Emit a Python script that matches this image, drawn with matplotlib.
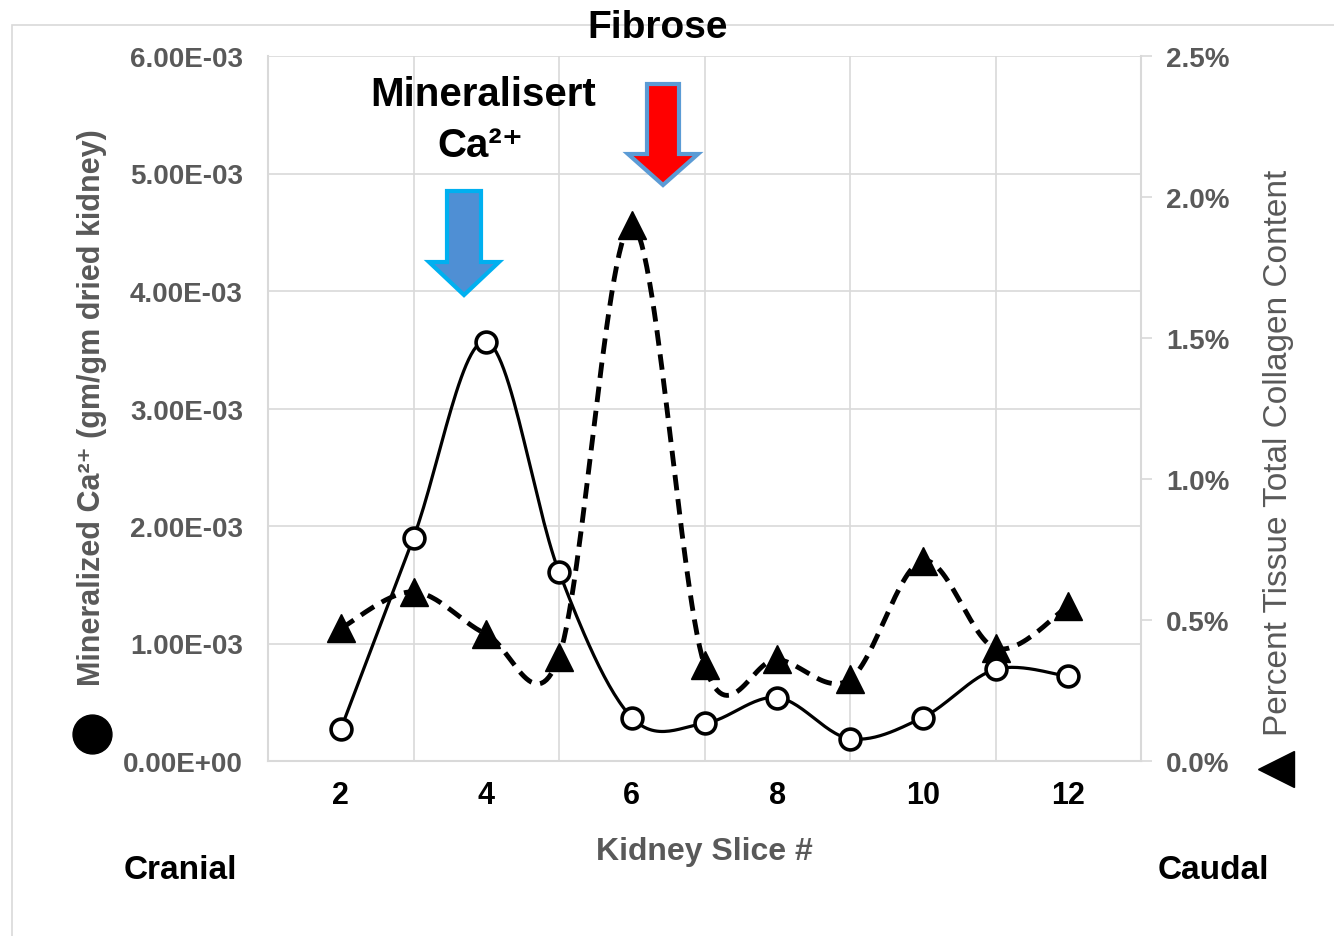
import matplotlib
matplotlib.use("Agg")
import matplotlib.pyplot as plt
import numpy as np
from matplotlib import font_manager
from matplotlib.patches import Polygon, Rectangle
from matplotlib.lines import Line2D
from matplotlib.ticker import FuncFormatter

# ---------------- data ----------------
slices = [2, 3, 4, 5, 6, 7, 8, 9, 10, 11, 12]
ca_mineral = [0.27e-3, 1.90e-3, 3.57e-3, 1.61e-3, 0.37e-3, 0.32e-3,
              0.54e-3, 0.19e-3, 0.37e-3, 0.78e-3, 0.72e-3]
collagen_pct = [0.47, 0.60, 0.45, 0.37, 1.90, 0.34, 0.36, 0.29, 0.71, 0.40, 0.55]
x_tick_labels = ["2", "4", "6", "8", "10", "12"]
left_ticks = [0, 1e-3, 2e-3, 3e-3, 4e-3, 5e-3, 6e-3]
right_ticks = [0.0, 0.5, 1.0, 1.5, 2.0, 2.5]

# ---------------- fonts ----------------
names = {f.name for f in font_manager.fontManager.ttflist}
REG = "Liberation Sans" if "Liberation Sans" in names else "DejaVu Sans"
NARROW = "Liberation Sans Narrow" if "Liberation Sans Narrow" in names else REG
plt.rcParams["font.family"] = [REG, "DejaVu Sans"]

GRAY = "#595959"
GRID = "#d9d9d9"

W, H = 1334, 937
fig = plt.figure(figsize=(W / 100, H / 100), dpi=100)
L, R, T, B = 268, 1141, 57, 762
ax = fig.add_axes([L / W, 1 - B / H, (R - L) / W, (B - T) / H])
ax2 = ax.twinx()


def smooth(xs, ys, n=30):
    """Excel-style smoothed line (Bezier through points, tension 1/6)."""
    xs = np.asarray(xs, float)
    ys = np.asarray(ys, float)
    P = np.column_stack([xs, ys])
    out = []
    for i in range(len(P) - 1):
        p0 = P[i - 1] if i > 0 else P[i]
        p1, p2 = P[i], P[i + 1]
        p3 = P[i + 2] if i + 2 < len(P) else P[i + 1]
        c1 = p1 + (p2 - p0) / 6.0
        c2 = p2 - (p3 - p1) / 6.0
        t = np.linspace(0, 1, n)[:, None]
        seg = ((1 - t) ** 3) * p1 + 3 * ((1 - t) ** 2) * t * c1 + 3 * (1 - t) * t ** 2 * c2 + t ** 3 * p2
        out.append(seg if i == 0 else seg[1:])
    out = np.vstack(out)
    return out[:, 0], out[:, 1]


# axes limits
ax.set_xlim(1, 13)
ax.set_ylim(0, 6e-3)
ax2.set_ylim(0, 2.5)

# grid on ax (bottom)
ax.set_xticks([int(s) for s in x_tick_labels])
ax.set_xticklabels(x_tick_labels)
ax.set_xticks(range(1, 14, 2), minor=True)
ax.tick_params(axis="x", which="both", length=0)
ax.grid(True, axis="x", which="minor", color=GRID, lw=1.2)
ax.grid(False, axis="x", which="major")
ax.set_yticks(left_ticks)
ax.grid(True, axis="y", which="major", color=GRID, lw=1.2)
ax.yaxis.set_major_formatter(FuncFormatter(lambda v, p: f"{v:.2E}"))
ax.tick_params(axis="y", length=0, pad=18, labelsize=20, labelcolor=GRAY)
for lab in ax.get_yticklabels():
    lab.set_fontweight("bold")
ax.tick_params(axis="x", pad=14, labelsize=22, labelcolor="black")
for lab in ax.get_xticklabels():
    lab.set_fontweight("bold")
    lab.set_fontfamily([NARROW, "DejaVu Sans"])

ax2.set_yticks(right_ticks)
ax2.yaxis.set_major_formatter(FuncFormatter(lambda v, p: f"{v:.1f}%"))
ax2.tick_params(axis="y", length=8, width=1.2, color=GRID, pad=10, labelsize=20, labelcolor=GRAY)
for lab in ax2.get_yticklabels():
    lab.set_fontweight("bold")

for a in (ax, ax2):
    for s in a.spines.values():
        s.set_visible(False)
ax2.spines["right"].set_visible(True)
ax2.spines["right"].set_color(GRID)
ax2.spines["right"].set_linewidth(1.5)
ax.spines["left"].set_visible(True)
ax.spines["left"].set_color(GRID)
ax.spines["left"].set_linewidth(1.5)
ax.spines["bottom"].set_visible(True)
ax.spines["bottom"].set_color(GRID)
ax.spines["bottom"].set_linewidth(1.5)

# collagen series (right axis) - dashed with filled triangles
sx, sy = smooth(slices, collagen_pct)
ax2.plot(sx, sy, color="black", lw=3.5, ls=(0, (3.2, 1.8)), zorder=2, clip_on=False)
ax2.plot(slices, collagen_pct, ls="none", marker="^", ms=20, mfc="black", mec="black",
         zorder=3, clip_on=False)

# mineral series (left axis) - solid with open circles, drawn above triangles
cx, cy = smooth(slices, ca_mineral)
ax2.plot(cx, cy, color="black", lw=2.3, transform=ax.transData, zorder=4, clip_on=False)
ax2.plot(slices, ca_mineral, ls="none", marker="o", ms=15, mfc="white", mec="black", mew=2.6,
         transform=ax.transData, zorder=5, clip_on=False)
ax2.set_ylim(0, 2.5)

# axis titles
fig.text(92 / W, 1 - 408 / H, "Mineralized Ca²⁺ (gm/gm dried kidney)", rotation=90,
         ha="center", va="center", fontsize=22, color=GRAY, fontweight="bold")
fig.text(1278 / W, 1 - 453 / H, "Percent Tissue Total Collagen Content", rotation=90,
         ha="center", va="center", fontsize=24, color=GRAY, family=[NARROW, "DejaVu Sans"])
fig.text(704 / W, 1 - 852 / H, "Kidney Slice #", ha="center", va="center", fontsize=23,
         color=GRAY, fontweight="bold", family=[NARROW, "DejaVu Sans"])

# legend-like symbols
fig.add_artist(Line2D([92 / W], [1 - 735 / H], marker="o", ms=28, color="black",
                      transform=fig.transFigure))
fig.add_artist(Line2D([1276 / W], [1 - 770 / H], marker="<", ms=26, color="black",
                      transform=fig.transFigure))

fig.text(180 / W, 1 - 871 / H, "Cranial", ha="center", va="center", fontsize=24,
         fontweight="bold", family=[NARROW, "DejaVu Sans"])
fig.text(1213 / W, 1 - 871 / H, "Caudal", ha="center", va="center", fontsize=24,
         fontweight="bold", family=[NARROW, "DejaVu Sans"])

# annotations
fig.text(658 / W, 1 - 28 / H, "Fibrose", ha="center", va="center", fontsize=28, fontweight="bold")
fig.text(483 / W, 1 - 95 / H, "Mineralisert", ha="center", va="center", fontsize=29, fontweight="bold")
fig.text(480 / W, 1 - 146 / H, "Ca²⁺", ha="center", va="center", fontsize=29,
         fontweight="bold")


def down_arrow(xc, ytop, ybot, shaft_w, head_w, head_y, face, edge):
    pts_px = [(xc - shaft_w / 2, ytop), (xc + shaft_w / 2, ytop), (xc + shaft_w / 2, head_y),
              (xc + head_w / 2, head_y), (xc, ybot), (xc - head_w / 2, head_y),
              (xc - shaft_w / 2, head_y)]
    pts = [(px / W, 1 - py / H) for px, py in pts_px]
    fig.add_artist(Polygon(pts, closed=True, facecolor=face, edgecolor=edge, lw=3,
                           transform=fig.transFigure, joinstyle="miter"))


down_arrow(464, 192, 296, 34, 70, 263, "#4f8fd4", "#00b0f0")
down_arrow(663, 85, 186, 32, 70, 155, "#ff0000", "#5b9bd5")

# outer chart border
fig.add_artist(Rectangle((12 / W, -0.05), 1.1, 1 - 26 / H + 0.05, fill=False, ec="#d9d9d9",
                         lw=1.2, transform=fig.transFigure))

fig.savefig("out.png", dpi=100)
